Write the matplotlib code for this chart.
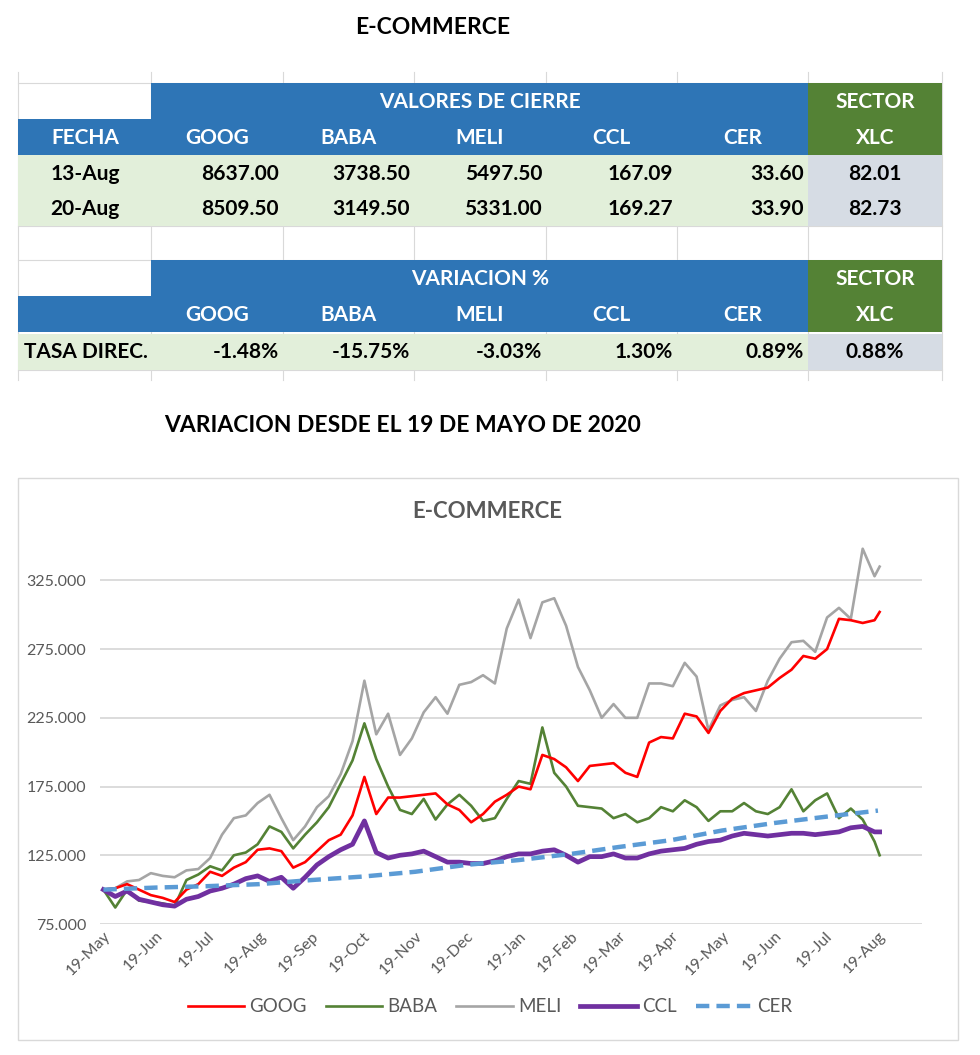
import matplotlib
matplotlib.use('Agg')
import matplotlib.pyplot as plt
import matplotlib.dates as mdates
from matplotlib.patches import Rectangle
from matplotlib.ticker import FuncFormatter
import pandas as pd

plt.rcParams['font.family'] = ['Lato', 'DejaVu Sans']

# ---------------- table data ----------------
tickers = ['GOOG', 'BABA', 'MELI', 'CCL', 'CER']
sector_name = 'XLC'
close_dates = ['13-Aug', '20-Aug']
close_values = [[8637.00, 3738.50, 5497.50, 167.09, 33.60],
                [8509.50, 3149.50, 5331.00, 169.27, 33.90]]
close_xlc = [82.01, 82.73]
var_label = 'TASA DIREC.'
var_values = [-1.48, -15.75, -3.03, 1.30, 0.89]
var_xlc = 0.88

# ---------------- chart data ----------------
week_dates = list(pd.date_range('2020-05-19', periods=66, freq='7D')) + [pd.Timestamp('2021-08-20')]

goog = [100, 101, 104, 100, 96, 94, 91, 100, 104, 113,
        110, 116, 120, 129, 130, 128, 116, 120, 128, 136,
        140, 154, 182, 155, 167, 167, 168, 169, 170, 162,
        158, 149, 155, 164, 169, 175, 173, 198, 195, 189,
        179, 190, 191, 192, 185, 182, 207, 211, 210, 228,
        226, 214, 230, 239, 243, 245, 247, 254, 260, 270,
        268, 275, 297, 296, 294, 296, 302]
baba = [100, 87, 100, 92, 91, 90, 88, 107, 111, 117,
        114, 125, 127, 133, 146, 142, 130, 140, 149, 160,
        177, 194, 221, 195, 175, 158, 155, 166, 151, 162,
        169, 161, 150, 152, 166, 179, 177, 218, 185, 175,
        161, 160, 159, 152, 155, 149, 152, 160, 157, 165,
        160, 150, 157, 157, 163, 157, 155, 160, 173, 157,
        165, 170, 152, 159, 151, 135, 125]
meli = [100, 101, 106, 107, 112, 110, 109, 114, 115, 123,
        140, 152, 154, 163, 169, 152, 136, 146, 160, 168,
        184, 208, 252, 213, 228, 198, 210, 229, 240, 228,
        249, 251, 256, 250, 290, 311, 283, 309, 312, 292,
        262, 245, 225, 235, 225, 225, 250, 250, 248, 265,
        255, 216, 234, 238, 240, 230, 252, 268, 280, 281,
        273, 298, 305, 297, 348, 328, 335]
ccl = [100, 95, 99, 93, 91, 89, 88, 93, 95, 99,
       101, 104, 108, 110, 106, 109, 101, 109, 118, 124,
       129, 133, 150, 127, 123, 125, 126, 128, 124, 120,
       120, 119, 119, 121, 124, 126, 126, 128, 129, 125,
       120, 124, 124, 126, 123, 123, 126, 128, 129, 130,
       133, 135, 136, 139, 141, 140, 139, 140, 141, 141,
       140, 141, 142, 145, 146, 142, 142]
cer_dates = list(pd.date_range('2020-05-01', periods=16, freq='MS') + pd.Timedelta(days=18))
cer = [100, 101.5, 102.5, 104, 107, 109.5, 113, 118, 121.5, 126,
       131, 136, 143, 148.5, 153, 157.5]

y_ticks = [75, 125, 175, 225, 275, 325]

# ---------------- figure ----------------
W, H = 980, 1055
fig = plt.figure(figsize=(W / 100, H / 100), dpi=100)
fig.patch.set_facecolor('white')

bg = fig.add_axes([0, 0, 1, 1], zorder=0)
bg.set_xlim(0, W)
bg.set_ylim(H, 0)
bg.axis('off')

BLUE = '#2E75B6'
GREEN = '#548235'
LGREEN = '#E2EFDA'
LGRAY = '#D6DCE4'
GRID = '#D9D9D9'

col_edges = [18, 151, 283, 414, 546, 677, 808, 942]

# sheet gridlines
for x in col_edges:
    bg.plot([x, x], [72, 380], color=GRID, lw=0.8, zorder=1)
for y in [83, 226, 260, 370]:
    bg.plot([18, 942], [y, y], color=GRID, lw=0.8, zorder=1)


def rect(x0, y0, x1, y1, color):
    bg.add_patch(Rectangle((x0, y0), x1 - x0, y1 - y0, facecolor=color, edgecolor='none', zorder=2))


fs_cell = 15


def header_block(y0, title):
    ymid = y0 + 36
    rect(151, y0, 808, ymid, BLUE)
    rect(18, ymid, 808, ymid + 36, BLUE)
    rect(808, y0, 942, ymid + 36, GREEN)
    fs = fs_cell
    bg.text(480, y0 + 19, title, color='white', fontsize=fs, fontweight='bold', ha='center', va='center', zorder=3)
    bg.text(875, y0 + 19, 'SECTOR', color='white', fontsize=fs, fontweight='bold', ha='center', va='center', zorder=3)
    bg.text(875, ymid + 19, sector_name, color='white', fontsize=fs, fontweight='bold', ha='center', va='center', zorder=3)
    for i, t in enumerate(tickers):
        cx = (col_edges[i + 1] + col_edges[i + 2]) / 2
        bg.text(cx, ymid + 19, t, color='white', fontsize=fs, fontweight='bold', ha='center', va='center', zorder=3)
    return ymid


# block 1
ymid = header_block(83, 'VALORES DE CIERRE')
bg.text(85, ymid + 19, 'FECHA', color='white', fontsize=fs_cell, fontweight='bold', ha='center', va='center', zorder=3)
rect(18, 155, 808, 226, LGREEN)
rect(808, 155, 942, 226, LGRAY)
for r, (d, vals, xv) in enumerate(zip(close_dates, close_values, close_xlc)):
    yc = 174 + r * 35
    bg.text(85, yc, d, fontsize=fs_cell, fontweight='bold', ha='center', va='center', zorder=3)
    for i, v in enumerate(vals):
        bg.text(col_edges[i + 2] - 4, yc, f'{v:.2f}', fontsize=fs_cell, fontweight='bold',
                ha='right', va='center', zorder=3)
    bg.text(875, yc, f'{xv:.2f}', fontsize=fs_cell, fontweight='bold', ha='center', va='center', zorder=3)

# block 2
ymid2 = header_block(260, 'VARIACION %')
rect(18, 334, 808, 370, LGREEN)
rect(808, 334, 942, 370, LGRAY)
yc = 352
bg.text(86, yc, var_label, fontsize=fs_cell, fontweight='bold', ha='center', va='center', zorder=3)
for i, v in enumerate(var_values):
    bg.text(col_edges[i + 2] - 4, yc, f'{v:.2f}%', fontsize=fs_cell, fontweight='bold',
            ha='right', va='center', zorder=3)
bg.text(875, yc, f'{var_xlc:.2f}%', fontsize=fs_cell, fontweight='bold', ha='center', va='center', zorder=3)

# titles
bg.text(433, 28, 'E-COMMERCE', fontsize=16.5, fontweight='bold', ha='center', va='center')
bg.text(403, 425, 'VARIACION DESDE EL 19 DE MAYO DE 2020', fontsize=16.5, fontweight='bold', ha='center', va='center')

# chart frame
bg.add_patch(Rectangle((18, 478), 940, 562, facecolor='white', edgecolor=GRID, lw=1.0, zorder=2))
bg.text(487, 511, 'E-COMMERCE', fontsize=16, fontweight='bold', color='#595959', ha='center', va='center', zorder=3)

# chart axes
ax = fig.add_axes([100 / W, (H - 924) / H, (922 - 100) / W, (924 - 546) / H], zorder=5)
ax.patch.set_alpha(0)

ax.plot(week_dates, goog, color='#FF0000', lw=1.9, label='GOOG', zorder=4)
ax.plot(week_dates, baba, color='#548235', lw=1.9, label='BABA', zorder=3)
ax.plot(week_dates, meli, color='#A5A5A5', lw=1.9, label='MELI', zorder=2)
ax.plot(week_dates, ccl, color='#7030A0', lw=3.4, label='CCL', zorder=5)
ax.plot(cer_dates, cer, color='#5B9BD5', lw=3.2, ls=(0, (3, 1.6)), label='CER', zorder=6)

ax.set_ylim(75, 350)
ax.set_xlim(pd.Timestamp('2020-05-17'), pd.Timestamp('2021-09-14'))
ax.set_yticks(y_ticks)
ax.yaxis.set_major_formatter(FuncFormatter(lambda v, p: f'{v:.3f}'))
ax.xaxis.set_major_locator(mdates.MonthLocator(bymonthday=19))
ax.xaxis.set_major_formatter(mdates.DateFormatter('%d-%b'))
ax.grid(axis='y', color=GRID, lw=1.3)
ax.set_axisbelow(True)
for s in ax.spines.values():
    s.set_visible(False)
ax.tick_params(axis='both', length=0, colors='#595959', labelsize=11.5)
ax.tick_params(axis='y', pad=10)
for lbl in ax.get_xticklabels():
    lbl.set_rotation(45)
    lbl.set_ha('right')
    lbl.set_rotation_mode('anchor')

leg = fig.legend(loc='center', bbox_to_anchor=(490 / W, 1 - 1007 / H), ncol=5, frameon=False,
                 fontsize=13.5, handlelength=3.0, columnspacing=1.0, handletextpad=0.3)
for t in leg.get_texts():
    t.set_color('#595959')

fig.savefig('out.png', dpi=100, facecolor='white')
